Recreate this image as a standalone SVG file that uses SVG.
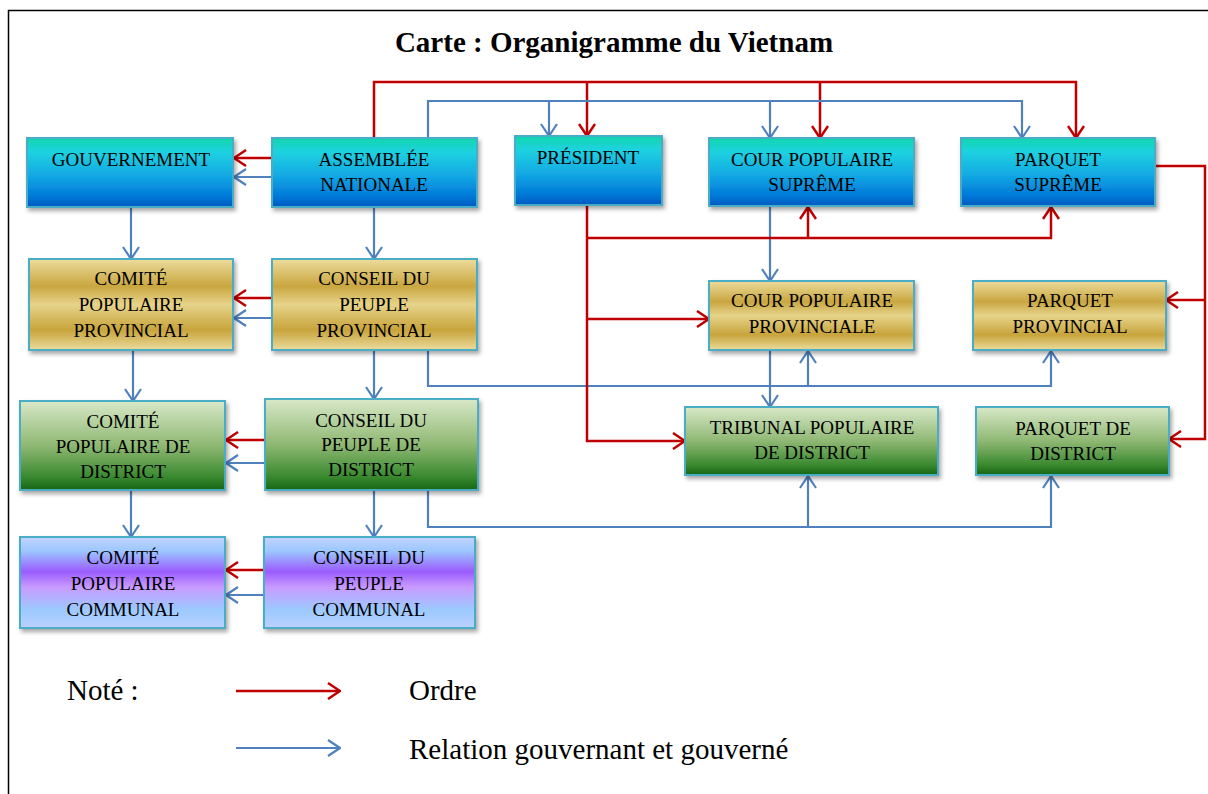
<svg xmlns="http://www.w3.org/2000/svg" width="1208" height="794" viewBox="0 0 1208 794">
<style>
.box{stroke:#4bacc6;stroke-width:2;filter:url(#sh)}
.t{font-family:"Liberation Serif","Times New Roman",serif;font-size:19px;fill:#000;text-anchor:middle}
.r{fill:none;stroke:#c00000;stroke-width:2.5}
.b{fill:none;stroke:#4f81bd;stroke-width:2.2}
.ra{marker-end:url(#mr)}
.ba{marker-end:url(#mb)}
.lg{font-family:"Liberation Serif","Times New Roman",serif;font-size:29px;fill:#000}
</style>
<defs>
<filter id="sh" x="-10%" y="-10%" width="125%" height="135%">
<feDropShadow dx="2" dy="3" stdDeviation="2" flood-color="#000" flood-opacity="0.35"/>
</filter>
<linearGradient id="gBlue" x1="0" y1="0" x2="0" y2="1">
<stop offset="0" stop-color="#0fd6ac"/>
<stop offset="0.2" stop-color="#1fd2e0"/>
<stop offset="0.55" stop-color="#12a8e4"/>
<stop offset="0.85" stop-color="#0078d8"/>
<stop offset="1" stop-color="#0058c0"/>
</linearGradient>
<linearGradient id="gGold" x1="0" y1="0" x2="0" y2="1">
<stop offset="0" stop-color="#ecdc9c"/>
<stop offset="0.3" stop-color="#c9a640"/>
<stop offset="0.5" stop-color="#e6d38a"/>
<stop offset="0.78" stop-color="#c8a43c"/>
<stop offset="1" stop-color="#eadb9c"/>
</linearGradient>
<linearGradient id="gGreen" x1="0" y1="0" x2="0" y2="1">
<stop offset="0" stop-color="#d8e8c8"/>
<stop offset="0.5" stop-color="#8fb873"/>
<stop offset="0.85" stop-color="#3a8a30"/>
<stop offset="1" stop-color="#166616"/>
</linearGradient>
<linearGradient id="gPurple" x1="0" y1="0" x2="0" y2="1">
<stop offset="0" stop-color="#c4d2ff"/>
<stop offset="0.15" stop-color="#9cc8ff"/>
<stop offset="0.38" stop-color="#9a5cff"/>
<stop offset="0.55" stop-color="#c89aff"/>
<stop offset="0.8" stop-color="#9ccaff"/>
<stop offset="1" stop-color="#bcd0ff"/>
</linearGradient>
<marker id="mr" viewBox="0 0 14 18" refX="13" refY="9" markerWidth="14" markerHeight="18" markerUnits="userSpaceOnUse" orient="auto">
<path d="M1,1 L13,9 L1,17" fill="none" stroke="#c00000" stroke-width="2.5"/>
</marker>
<marker id="mb" viewBox="0 0 14 18" refX="13" refY="9" markerWidth="14" markerHeight="18" markerUnits="userSpaceOnUse" orient="auto">
<path d="M1,1 L13,9 L1,17" fill="none" stroke="#4f81bd" stroke-width="2.2"/>
</marker>
</defs>
<rect x="0" y="0" width="1208" height="794" fill="#fff"/>
<rect x="8.5" y="10.5" width="1220" height="800" fill="none" stroke="#000" stroke-width="1.5"/>
<text x="614" y="52" font-family="'Liberation Serif','Times New Roman',serif" font-size="29" font-weight="bold" text-anchor="middle">Carte : Organigramme du Vietnam</text>

<g id="connectors">
<path class="r ra" d="M374,138 V82 H1076 V138"/>
<path class="r ra" d="M587,82 V136"/>
<path class="r ra" d="M820,82 V138"/>
<path class="b ba" d="M428,138 V101 H1022 V138"/>
<path class="b ba" d="M549,101 V136"/>
<path class="b ba" d="M770,101 V138"/>
<path class="r ra" d="M272,158 H234"/>
<path class="b ba" d="M272,177 H234"/>
<path class="b ba" d="M131,207 V259"/>
<path class="b ba" d="M374,207 V259"/>
<path class="r ra" d="M272,298 H234"/>
<path class="b ba" d="M272,318 H234"/>
<path class="b ba" d="M133,350 V401"/>
<path class="b ba" d="M374,350 V399"/>
<path class="b ba" d="M428,350 V386 H1051 V351"/>
<path class="b ba" d="M808,386 V351"/>
<path class="b ba" d="M770,206 V281"/>
<path class="b ba" d="M770,350 V407"/>
<path class="r ra" d="M265,440 H226"/>
<path class="b ba" d="M265,463 H226"/>
<path class="b ba" d="M131,490 V537"/>
<path class="b ba" d="M374,490 V537"/>
<path class="b ba" d="M428,490 V527 H1051 V476"/>
<path class="b ba" d="M808,527 V476"/>
<path class="r ra" d="M264,570 H226"/>
<path class="b ba" d="M264,595 H226"/>
<path class="r ra" d="M587,205 V441 H685"/>
<path class="r ra" d="M587,238 H1051 V207"/>
<path class="r ra" d="M808,238 V207"/>
<path class="r ra" d="M587,319 H709"/>
<path class="r ra" d="M1155,166 H1205 V439 H1169"/>
<path class="r ra" d="M1205,300 H1166"/>
</g>

<g id="gouvernement">
<rect class="box" x="27" y="138" width="206" height="69" fill="url(#gBlue)"/>
<text class="t" x="131" y="166">GOUVERNEMENT</text>
</g>
<g id="assemblee">
<rect class="box" x="272" y="138" width="205" height="69" fill="url(#gBlue)"/>
<text class="t" x="374" y="166">ASSEMBLÉE</text>
<text class="t" x="374" y="191">NATIONALE</text>
</g>
<g id="president">
<rect class="box" x="515" y="136" width="147" height="69" fill="url(#gBlue)"/>
<text class="t" x="588" y="164">PRÉSIDENT</text>
</g>
<g id="cour-supreme">
<rect class="box" x="709" y="138" width="205" height="68" fill="url(#gBlue)"/>
<text class="t" x="812" y="166">COUR POPULAIRE</text>
<text class="t" x="812" y="191">SUPRÊME</text>
</g>
<g id="parquet-supreme">
<rect class="box" x="961" y="138" width="194" height="68" fill="url(#gBlue)"/>
<text class="t" x="1058" y="166">PARQUET</text>
<text class="t" x="1058" y="191">SUPRÊME</text>
</g>

<g id="comite-provincial">
<rect class="box" x="29" y="259" width="204" height="91" fill="url(#gGold)"/>
<text class="t" x="131" y="285">COMITÉ</text>
<text class="t" x="131" y="311">POPULAIRE</text>
<text class="t" x="131" y="337">PROVINCIAL</text>
</g>
<g id="conseil-provincial">
<rect class="box" x="272" y="259" width="205" height="91" fill="url(#gGold)"/>
<text class="t" x="374" y="285">CONSEIL DU</text>
<text class="t" x="374" y="311">PEUPLE</text>
<text class="t" x="374" y="337">PROVINCIAL</text>
</g>
<g id="cour-provinciale">
<rect class="box" x="709" y="281" width="205" height="69" fill="url(#gGold)"/>
<text class="t" x="812" y="307">COUR POPULAIRE</text>
<text class="t" x="812" y="333">PROVINCIALE</text>
</g>
<g id="parquet-provincial">
<rect class="box" x="973" y="281" width="193" height="69" fill="url(#gGold)"/>
<text class="t" x="1070" y="307">PARQUET</text>
<text class="t" x="1070" y="333">PROVINCIAL</text>
</g>

<g id="comite-district">
<rect class="box" x="20" y="401" width="205" height="89" fill="url(#gGreen)"/>
<text class="t" x="123" y="428">COMITÉ</text>
<text class="t" x="123" y="453">POPULAIRE DE</text>
<text class="t" x="123" y="478">DISTRICT</text>
</g>
<g id="conseil-district">
<rect class="box" x="265" y="399" width="213" height="91" fill="url(#gGreen)"/>
<text class="t" x="371" y="427">CONSEIL DU</text>
<text class="t" x="371" y="451">PEUPLE DE</text>
<text class="t" x="371" y="476">DISTRICT</text>
</g>
<g id="tribunal-district">
<rect class="box" x="685" y="407" width="253" height="68" fill="url(#gGreen)"/>
<text class="t" x="812" y="434">TRIBUNAL POPULAIRE</text>
<text class="t" x="812" y="459">DE DISTRICT</text>
</g>
<g id="parquet-district">
<rect class="box" x="976" y="407" width="193" height="68" fill="url(#gGreen)"/>
<text class="t" x="1073" y="435">PARQUET DE</text>
<text class="t" x="1073" y="460">DISTRICT</text>
</g>

<g id="comite-communal">
<rect class="box" x="20" y="537" width="205" height="91" fill="url(#gPurple)"/>
<text class="t" x="123" y="564">COMITÉ</text>
<text class="t" x="123" y="590">POPULAIRE</text>
<text class="t" x="123" y="616">COMMUNAL</text>
</g>
<g id="conseil-communal">
<rect class="box" x="264" y="537" width="211" height="91" fill="url(#gPurple)"/>
<text class="t" x="369" y="564">CONSEIL DU</text>
<text class="t" x="369" y="590">PEUPLE</text>
<text class="t" x="369" y="616">COMMUNAL</text>
</g>

<g id="legend">
<text class="lg" x="67" y="700">Noté :</text>
<path class="r ra" d="M236,691 H340"/>
<text class="lg" x="409" y="700">Ordre</text>
<path class="b ba" d="M236,748 H340"/>
<text class="lg" x="409" y="759">Relation gouvernant et gouverné</text>
</g>
</svg>
